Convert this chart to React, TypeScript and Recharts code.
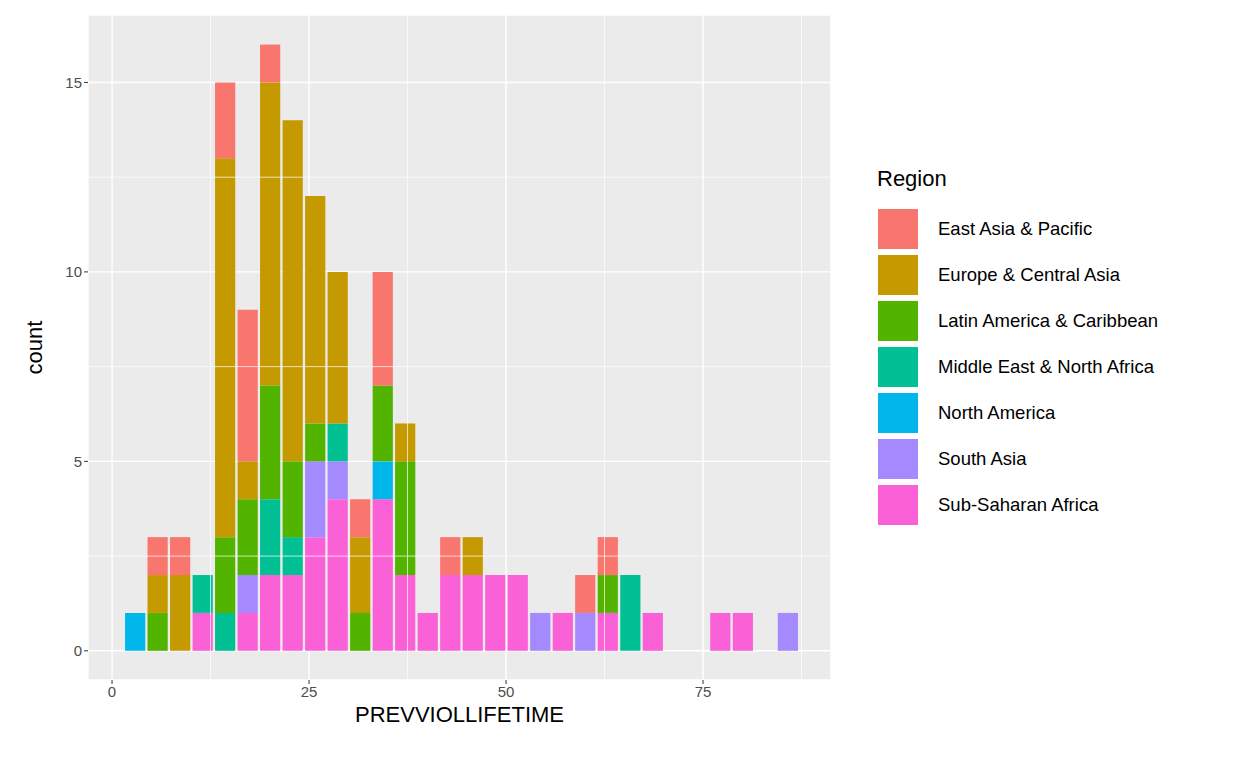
import { Bar, BarChart, CartesianGrid, ReferenceLine, XAxis, YAxis, Label } from 'recharts';

// histogram bin centres (30 bins)
const binCenters = [
  2.95, 5.8, 8.66, 11.52, 14.37, 17.23, 20.08, 22.94, 25.8, 28.65,
  31.51, 34.37, 37.22, 40.08, 42.94, 45.79, 48.65, 51.5, 54.36, 57.22,
  60.07, 62.93, 65.79, 68.64, 71.5, 74.36, 77.21, 80.07, 82.93, 85.78,
];

const subSaharan = [0, 0, 0, 1, 0, 1, 2, 2, 3, 4, 0, 4, 2, 1, 2, 2, 2, 2, 0, 1, 0, 1, 0, 1, 0, 0, 1, 1, 0, 0];
const southAsia = [0, 0, 0, 0, 0, 1, 0, 0, 2, 1, 0, 0, 0, 0, 0, 0, 0, 0, 1, 0, 1, 0, 0, 0, 0, 0, 0, 0, 0, 1];
const northAmerica = [1, 0, 0, 0, 0, 0, 0, 0, 0, 0, 0, 1, 0, 0, 0, 0, 0, 0, 0, 0, 0, 0, 0, 0, 0, 0, 0, 0, 0, 0];
const mena = [0, 0, 0, 1, 1, 0, 2, 1, 0, 1, 0, 0, 0, 0, 0, 0, 0, 0, 0, 0, 0, 0, 2, 0, 0, 0, 0, 0, 0, 0];
const latAm = [0, 1, 0, 0, 2, 2, 3, 2, 1, 0, 1, 2, 3, 0, 0, 0, 0, 0, 0, 0, 0, 1, 0, 0, 0, 0, 0, 0, 0, 0];
const europe = [0, 1, 2, 0, 10, 1, 8, 9, 6, 4, 2, 0, 1, 0, 0, 1, 0, 0, 0, 0, 0, 0, 0, 0, 0, 0, 0, 0, 0, 0];
const eastAsia = [0, 1, 1, 0, 2, 4, 1, 0, 0, 0, 1, 3, 0, 0, 1, 0, 0, 0, 0, 0, 1, 1, 0, 0, 0, 0, 0, 0, 0, 0];

const xTicks = [0, 25, 50, 75];
const yTicks = [0, 5, 10, 15];
const xMinor = [12.5, 37.5, 62.5, 87.5];
const yMinor = [2.5, 7.5, 12.5];

// legend order top→bottom; stacking goes the other way
const regions = [
  { key: 'eastAsia', name: 'East Asia & Pacific', color: '#F8766D' },
  { key: 'europe', name: 'Europe & Central Asia', color: '#C49A00' },
  { key: 'latAm', name: 'Latin America & Caribbean', color: '#53B400' },
  { key: 'mena', name: 'Middle East & North Africa', color: '#00C094' },
  { key: 'northAmerica', name: 'North America', color: '#00B6EB' },
  { key: 'southAsia', name: 'South Asia', color: '#A58AFF' },
  { key: 'subSaharan', name: 'Sub-Saharan Africa', color: '#FB61D7' },
];

const data = binCenters.map((x, i) => ({
  x,
  subSaharan: subSaharan[i],
  southAsia: southAsia[i],
  northAmerica: northAmerica[i],
  mena: mena[i],
  latAm: latAm[i],
  europe: europe[i],
  eastAsia: eastAsia[i],
}));

const font = '"Liberation Sans", Arial, sans-serif';
const tick = { fill: '#4D4D4D', fontSize: 15, fontFamily: font };

export default function App() {
  const stackOrder = [...regions].reverse();
  return (
    <div style={{ position: 'fixed', left: 0, top: 0, width: 1248, height: 768, background: '#fff', fontFamily: font }}>
      <BarChart
        width={1248}
        height={768}
        data={data}
        margin={{ top: 15, right: 417, left: 28, bottom: 28 }}
        barGap={0}
      >
        <CartesianGrid fill="#EBEBEB" stroke="#FFFFFF" strokeWidth={1.4} />
        {xMinor.map((v) => (
          <ReferenceLine key={`xm${v}`} x={v} stroke="#FFFFFF" strokeWidth={0.7} />
        ))}
        {yMinor.map((v) => (
          <ReferenceLine key={`ym${v}`} y={v} stroke="#FFFFFF" strokeWidth={0.7} />
        ))}
        <XAxis
          dataKey="x"
          type="number"
          domain={[-3.05, 91.24]}
          ticks={xTicks}
          tick={tick}
          tickSize={4}
          tickLine={{ stroke: '#333333' }}
          axisLine={false}
          height={60}
          allowDataOverflow
        >
          <Label value="PREVVIOLLIFETIME" position="insideBottom" offset={18} style={{ fill: '#000', fontSize: 22, fontFamily: font }} />
        </XAxis>
        <YAxis
          type="number"
          domain={[-0.77, 16.78]}
          ticks={yTicks}
          tick={tick}
          tickSize={4}
          tickLine={{ stroke: '#333333' }}
          axisLine={false}
          width={60}
          allowDataOverflow
        >
          <Label value="count" angle={-90} position="insideLeft" offset={6} style={{ fill: '#000', fontSize: 22, fontFamily: font, textAnchor: 'middle' }} />
        </YAxis>
        {stackOrder.map((r) => (
          <Bar key={r.key} dataKey={r.key} stackId="a" fill={r.color} barSize={22.6} isAnimationActive={false} />
        ))}
      </BarChart>
      <div style={{ position: 'absolute', left: 877, top: 166 }}>
        <div style={{ fontSize: 22, color: '#000', marginBottom: 14 }}>Region</div>
        {regions.map((r) => (
          <div key={r.key} style={{ display: 'flex', alignItems: 'center', height: 46 }}>
            <div style={{ width: 42, height: 42, background: r.color, border: '1px solid #fff', boxSizing: 'border-box' }} />
            <div style={{ marginLeft: 19, fontSize: 18.5, color: '#000' }}>{r.name}</div>
          </div>
        ))}
      </div>
    </div>
  );
}
